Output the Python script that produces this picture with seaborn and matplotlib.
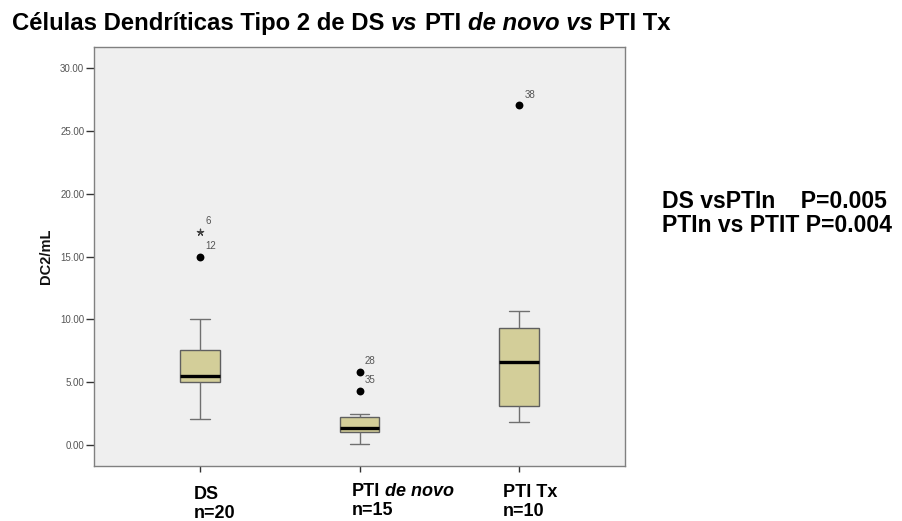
import numpy as np
import pandas as pd
import matplotlib
matplotlib.use("Agg")
import matplotlib.pyplot as plt
import seaborn as sns

# ---------------- data ----------------
categories = ["DS", "PTI de novo", "PTI Tx"]
ds_values = [2.05, 3.2, 4.1, 4.6, 5.0, 5.05, 5.1, 5.2, 5.3, 5.45, 5.6, 5.9,
             6.4, 7.0, 7.5, 7.7, 8.6, 10.0, 15.0, 17.0]
pti_novo_values = [0.05, 0.5, 0.85, 0.97, 1.05, 1.15, 1.3, 1.38, 1.6, 1.9,
                   2.15, 2.31, 2.44, 4.33, 5.84]
pti_tx_values = [1.86, 2.6, 3.0, 3.52, 5.9, 7.32, 9.0, 9.43, 10.67, 27.05]

outlier_group = ["DS", "DS", "PTI de novo", "PTI de novo", "PTI Tx"]
outlier_value = [17.0, 15.0, 5.84, 4.33, 27.05]
outlier_case = ["6", "12", "28", "35", "38"]
outlier_kind = ["extreme", "outlier", "outlier", "outlier", "outlier"]

y_ticks = [0, 5, 10, 15, 20, 25, 30]
y_label = "DC2/mL"
x_labels_n = ["n=20", "n=15", "n=10"]
stats_lines = ["DS vsPTIn    P=0.005", "PTIn vs PTIT P=0.004"]

# ---------------- figure ----------------
W, H, DPI = 902, 521, 100
sns.set_theme(style="white")
plt.rcParams["font.family"] = ["Liberation Sans", "DejaVu Sans"]

fig = plt.figure(figsize=(W / DPI, H / DPI), dpi=DPI)
ax = fig.add_axes([94 / W, 1 - 466 / H, (625 - 94) / W, (466 - 47) / H])

df = pd.DataFrame({
    "group": (["DS"] * len(ds_values) + ["PTI de novo"] * len(pti_novo_values)
              + ["PTI Tx"] * len(pti_tx_values)),
    "value": ds_values + pti_novo_values + pti_tx_values,
})

box_face = "#D3CE99"
edge = "#5f5f5f"
sns.boxplot(data=df, x="group", y="value", order=categories, ax=ax,
            width=0.25, whis=1.5, showfliers=False, color=box_face,
            saturation=1, linewidth=1.0, linecolor=edge,
            medianprops=dict(color="black", linewidth=2.4),
            whiskerprops=dict(color="#707070", linewidth=1.0),
            capprops=dict(color="#707070", linewidth=1.0),
            boxprops=dict(facecolor=box_face, edgecolor=edge, linewidth=1.0))

# outliers
odf = pd.DataFrame({"group": outlier_group, "value": outlier_value,
                    "case": outlier_case, "kind": outlier_kind})
odf["xpos"] = odf["group"].map({c: i for i, c in enumerate(categories)})
circ = odf[odf["kind"] == "outlier"]
ext = odf[odf["kind"] == "extreme"]
ax.scatter(circ["xpos"], circ["value"], s=32, color="black", zorder=5, linewidths=0)
ax.scatter(ext["xpos"], ext["value"], s=22, marker=(5, 2, 0), color="#444444",
           linewidths=0.9, zorder=5)
for _, r in odf.iterrows():
    ax.annotate(r["case"], (r["xpos"], r["value"]), xytext=(4, 4),
                textcoords="offset points", fontsize=7, color="#555555",
                va="bottom", ha="left")

ax.set_xlim(-0.667, 2.667)
ax.set_ylim(-1.67, 31.7)
ax.set_yticks(y_ticks)
ax.set_yticklabels([f"{v:.2f}" for v in y_ticks], fontsize=7, color="#555555")
ax.set_xticks(range(len(categories)))
ax.set_xticklabels([""] * len(categories))
ax.set_xlabel("")
ax.set_ylabel(y_label, fontsize=10.5, fontweight="bold", color="#111111", labelpad=5)
ax.set_facecolor("#EFEFEF")
for sp in ax.spines.values():
    sp.set_visible(True)
    sp.set_color("#808080")
    sp.set_linewidth(1.0)
ax.tick_params(axis="y", direction="out", length=6, width=1.0, color="#333333",
               pad=1, left=True)
ax.tick_params(axis="x", direction="out", length=4, width=1.0, color="#333333",
               bottom=True)

# ---------------- text helpers ----------------
fig.canvas.draw()
renderer = fig.canvas.get_renderer()


def px(x, y):
    return x / W, 1 - y / H


def rich_line(x0, y0, pieces, size):
    """pieces: list of (text, style); draws bold text pieces on one baseline."""
    x = x0
    probe = fig.text(0, 0, "xx", fontsize=size, fontweight="bold")
    w_xx = probe.get_window_extent(renderer).width
    probe.set_text("x x")
    space = probe.get_window_extent(renderer).width - w_xx
    probe.remove()
    for i, (s, style) in enumerate(pieces):
        if i > 0:
            x += space
        fx, fy = px(x, y0)
        t = fig.text(fx, fy, s, fontsize=size, fontweight="bold", fontstyle=style,
                     va="baseline", ha="left", color="black")
        x += t.get_window_extent(renderer).width


title_pieces = [("Células Dendríticas Tipo 2 de DS", "normal"), ("vs", "italic"),
                ("PTI", "normal"), ("de novo vs", "italic"), ("PTI Tx", "normal")]
rich_line(12, 30, title_pieces, 17.2)

# x category labels
label_left = [194, 352, 503]
label_base = [499, 496, 497]
label_pieces = [[("DS", "normal")], [("PTI", "normal"), ("de novo", "italic")],
                [("PTI Tx", "normal")]]
for i in range(len(categories)):
    rich_line(label_left[i], label_base[i], label_pieces[i], 13)
    fx, fy = px(label_left[i], label_base[i] + 19)
    fig.text(fx, fy, x_labels_n[i], fontsize=13, fontweight="bold",
             va="baseline", ha="left", color="black")

# p-value text
for j, line in enumerate(stats_lines):
    fx, fy = px(662, 208 + 23.5 * j)
    fig.text(fx, fy, line, fontsize=16.6, fontweight="bold", va="baseline",
             ha="left", color="black")

fig.savefig("out.png", dpi=DPI, facecolor="white")
